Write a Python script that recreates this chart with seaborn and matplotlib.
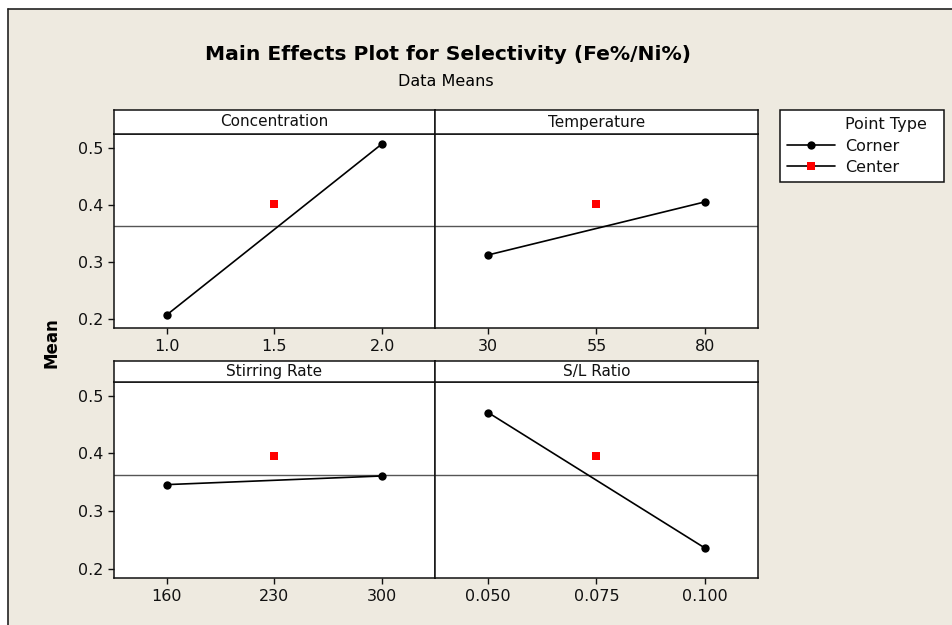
import matplotlib
matplotlib.use("Agg")
import matplotlib.pyplot as plt
from matplotlib.lines import Line2D
from matplotlib.patches import Rectangle
import pandas as pd
import seaborn as sns

# data
factors = ["Concentration", "Temperature", "Stirring Rate", "S/L Ratio"]
low_levels = [1.0, 30, 160, 0.050]
center_levels = [1.5, 55, 230, 0.075]
high_levels = [2.0, 80, 300, 0.100]
low_means = [0.207, 0.312, 0.346, 0.471]
high_means = [0.507, 0.405, 0.361, 0.236]
center_means = [0.401, 0.401, 0.396, 0.396]
grand_mean = 0.363
level_labels = [["1.0", "1.5", "2.0"], ["30", "55", "80"],
                ["160", "230", "300"], ["0.050", "0.075", "0.100"]]
y_ticks = [0.2, 0.3, 0.4, 0.5]

sns.set_theme(style="white")
plt.rcParams["font.family"] = ["DejaVu Sans"]

W, H = 953, 625
BG = "#EEEAE0"


def px_box(x0, y0, x1, y1):
    return [x0 / W, 1 - y1 / H, (x1 - x0) / W, (y1 - y0) / H]


fig = plt.figure(figsize=(W / 100, H / 100), dpi=100, facecolor="white")

# beige graph region with border on left and top
fig.patches.append(Rectangle((8 / W, 0), 1, 1 - 9 / H, transform=fig.transFigure,
                             facecolor=BG, edgecolor="none", zorder=-10))
fig.lines.append(Line2D([8 / W, 8 / W], [0, 1 - 9 / H], transform=fig.transFigure,
                        color="#222222", lw=1.2, zorder=-9))
fig.lines.append(Line2D([8 / W, 1], [1 - 9 / H, 1 - 9 / H], transform=fig.transFigure,
                        color="#222222", lw=1.2, zorder=-9))

cols = [(114, 435), (435, 758)]
rows = [((110, 134), (134, 328)), ((361, 382), (382, 578))]

for i, name in enumerate(factors):
    r, c = divmod(i, 2)
    x0, x1 = cols[c]
    (s0, s1), (d0, d1) = rows[r]

    ax = fig.add_axes(px_box(x0, d0, x1, d1))
    corners = pd.DataFrame({"level": [low_levels[i], high_levels[i]],
                            "mean": [low_means[i], high_means[i]]})
    center = pd.DataFrame({"level": [center_levels[i]], "mean": [center_means[i]]})

    ax.axhline(grand_mean, color="#555555", lw=1.0, zorder=1)
    sns.lineplot(data=corners, x="level", y="mean", color="black", lw=1.2,
                 marker="o", markersize=6, markeredgewidth=0, ax=ax, zorder=3)
    sns.scatterplot(data=center, x="level", y="mean", color="#FF0000", marker="s",
                    s=40, linewidth=0, ax=ax, zorder=3)

    span = high_levels[i] - low_levels[i]
    ax.set_xlim(low_levels[i] - 0.245 * span, high_levels[i] + 0.245 * span)
    ax.set_ylim(0.184, 0.524)
    ax.set_xticks([low_levels[i], center_levels[i], high_levels[i]])
    ax.set_xticklabels(level_labels[i])
    ax.set_xlabel("")
    ax.set_ylabel("")
    ax.set_facecolor("white")
    for sp in ax.spines.values():
        sp.set_color("#111111")
        sp.set_linewidth(1.1)
    ax.tick_params(axis="x", direction="out", length=4, width=1, color="#111111",
                   labelsize=11.5, labelcolor="#111111", pad=4, bottom=True)
    if c == 0:
        ax.set_yticks(y_ticks)
        ax.set_yticklabels([f"{v:.1f}" for v in y_ticks])
        ax.tick_params(axis="y", direction="out", length=4, width=1, color="#111111",
                       labelsize=11.5, labelcolor="#111111", pad=4, left=True)
    else:
        ax.set_yticks([])

    # strip header
    sax = fig.add_axes(px_box(x0, s0, x1, s1))
    sax.set_xticks([])
    sax.set_yticks([])
    sax.set_facecolor("white")
    for sp in sax.spines.values():
        sp.set_color("#111111")
        sp.set_linewidth(1.1)
    sax.text(0.5, 0.5, name, ha="center", va="center", fontsize=11,
             color="#111111", transform=sax.transAxes)

fig.text(448 / W, 1 - 54 / H, "Main Effects Plot for Selectivity (Fe%/Ni%)",
         ha="center", va="center", fontsize=14.6, fontweight="bold", color="black")
fig.text(446 / W, 1 - 81 / H, "Data Means", ha="center", va="center",
         fontsize=11.5, color="black")
fig.text(52 / W, 1 - 343 / H, "Mean", ha="center", va="center", rotation=90,
         fontsize=12, fontweight="bold", color="black")

handles = [
    Line2D([], [], linestyle="none"),
    Line2D([], [], color="black", lw=1.2, marker="o", markersize=6, markeredgewidth=0),
    Line2D([], [], color="black", lw=1.2, marker="s", markersize=6,
           markerfacecolor="#FF0000", markeredgewidth=0),
]
leg = fig.legend(handles, ["Point Type  ", "Corner", "Center"],
                 loc="upper left", bbox_to_anchor=(780 / W, 1 - 110 / H),
                 fontsize=11.5, frameon=True, fancybox=False, handlelength=3.0,
                 handletextpad=0.6, labelspacing=0.4, borderpad=0.45,
                 borderaxespad=0)
leg.get_frame().set_edgecolor("#111111")
leg.get_frame().set_linewidth(1.1)
leg.get_frame().set_facecolor("white")
leg.get_frame().set_alpha(1)
for t in leg.get_texts():
    t.set_color("#111111")

fig.savefig("out.png", dpi=100, facecolor="white")
